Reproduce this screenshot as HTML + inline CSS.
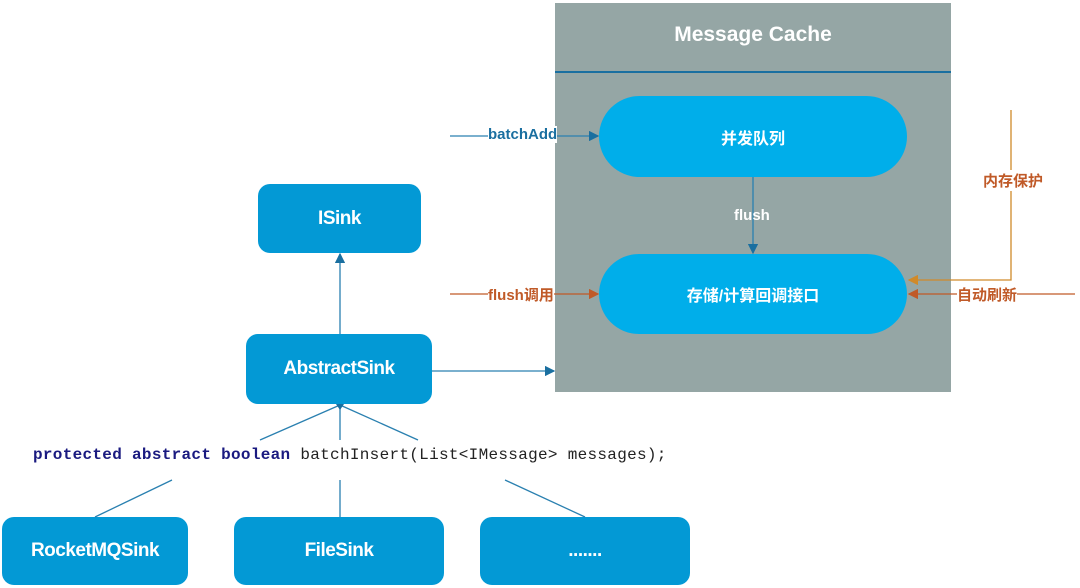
<!DOCTYPE html>
<html><head><meta charset="utf-8"><style>
body{margin:0;width:1080px;height:588px;background:#fff;position:relative;overflow:hidden;font-family:"Liberation Sans","Noto Sans CJK SC",sans-serif}
.b{position:absolute;background:#0399d5;border-radius:12px;color:#fff;font-size:19px;font-weight:bold;display:flex;align-items:center;justify-content:center;letter-spacing:-0.5px}
.p{position:absolute;background:#00aeea;border-radius:41px;color:#fff;font-size:16px;font-weight:bold;display:flex;align-items:center;justify-content:center}
.t{position:absolute;font-size:15px;font-weight:bold;white-space:nowrap}
</style></head><body>
<div style="position:absolute;left:555px;top:3px;width:396px;height:389px;background:#95a6a5"></div>
<div style="position:absolute;left:555px;top:71px;width:396px;height:2px;background:#1a6fa0"></div>
<div class="t" style="left:555px;width:396px;top:23px;text-align:center;color:#fff;font-size:21px">Message Cache</div>
<div class="p" style="left:599px;top:96px;width:308px;height:81px">并发队列</div>
<div class="p" style="left:599px;top:254px;width:308px;height:80px">存储/计算回调接口</div>
<div class="b" style="left:258px;top:184px;width:163px;height:69px">ISink</div>
<div class="b" style="left:246px;top:334px;width:186px;height:70px">AbstractSink</div>
<div class="b" style="left:2px;top:517px;width:186px;height:68px">RocketMQSink</div>
<div class="b" style="left:234px;top:517px;width:210px;height:68px">FileSink</div>
<div class="b" style="left:480px;top:517px;width:210px;height:68px">.......</div>
<svg width="1080" height="588" style="position:absolute;left:0;top:0">
<defs>
<marker id="ab" markerWidth="8" markerHeight="8" refX="7" refY="4" orient="auto"><path d="M0,0L8,4L0,8z" fill="#1a6fa0"/></marker>
<marker id="ao" markerWidth="8" markerHeight="8" refX="7" refY="4" orient="auto"><path d="M0,0L8,4L0,8z" fill="#c05a28"/></marker>
<marker id="ay" markerWidth="8" markerHeight="8" refX="7" refY="4" orient="auto"><path d="M0,0L8,4L0,8z" fill="#d08a2a"/></marker>
</defs>
<g stroke="#2a80b0" stroke-width="1.3" fill="none">
<line x1="450" y1="136" x2="598" y2="136" marker-end="url(#ab)"/>
<line x1="753" y1="177" x2="753" y2="253" marker-end="url(#ab)"/>
<line x1="340" y1="334" x2="340" y2="254" marker-end="url(#ab)"/>
<line x1="432" y1="371" x2="554" y2="371" marker-end="url(#ab)"/>
<line x1="340" y1="405" x2="260" y2="440"/>
<line x1="340" y1="405" x2="340" y2="440"/>
<line x1="340" y1="405" x2="418" y2="440"/>
<line x1="172" y1="480" x2="95" y2="517"/>
<line x1="340" y1="480" x2="340" y2="517"/>
<line x1="505" y1="480" x2="585" y2="517"/>
</g>
<path d="M336,404h8l-4,6z" fill="#1a6fa0"/>
<line x1="450" y1="294" x2="598" y2="294" stroke="#c05a28" stroke-width="1.3" marker-end="url(#ao)"/>
<line x1="1075" y1="294" x2="909" y2="294" stroke="#c05a28" stroke-width="1.3" marker-end="url(#ao)"/>
<polyline points="1011,110 1011,280 909,280" fill="none" stroke="#d08a2a" stroke-width="1.3" marker-end="url(#ay)"/>
</svg>
<div class="t" style="left:488px;top:126px;background:#fff;color:#1a6fa0">batchAdd</div>
<div class="t" style="left:488px;top:284px;background:#fff;color:#c05a28">flush调用</div>
<div class="t" style="left:957px;top:284px;background:#fff;color:#c05a28">自动刷新</div>
<div class="t" style="left:983px;top:170px;background:#fff;color:#c05a28">内存保护</div>
<div class="t" style="left:734px;top:207px;color:#fff">flush</div>
<div class="t" style="left:33px;top:446px;font-family:'Liberation Mono',monospace;font-size:16px;font-weight:normal;letter-spacing:0.3px;color:#222"><b style="color:#1a1a80">protected abstract boolean</b> batchInsert(List&lt;IMessage&gt; messages);</div>
</body></html>
